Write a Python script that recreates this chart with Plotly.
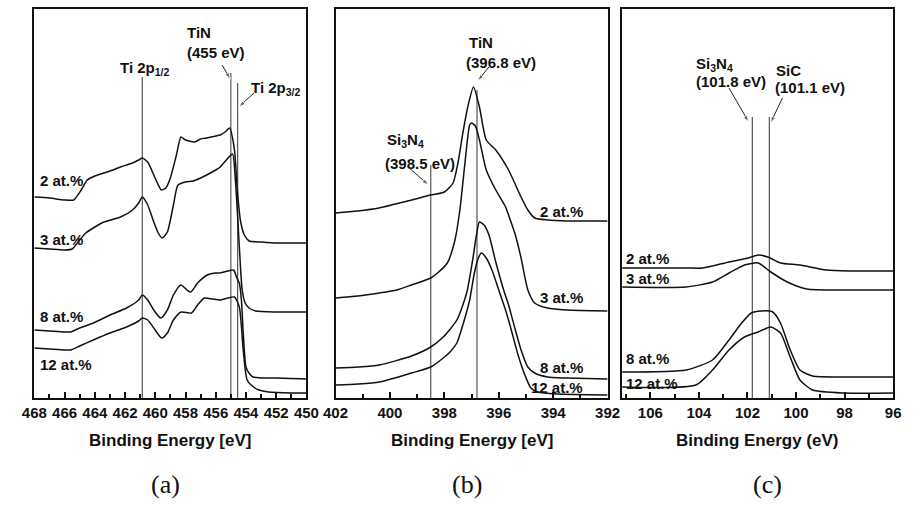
import plotly.graph_objects as go

W, H = 913, 505

# ---------------- Panel (a): Ti 2p ----------------
a_2_E = [468.0, 467.0, 466.0, 465.4, 464.9, 464.5, 464.0, 463.4, 462.8, 462.3, 461.5, 461.1, 460.86, 460.5, 460.1, 459.8, 459.6, 459.3, 459.0, 458.6,
         458.3, 458.0, 457.4, 457.0, 456.6, 456.0, 455.7, 455.3, 455.08, 454.76, 454.57, 454.37, 454.11, 453.79, 453.0, 452.0, 451.0, 450.0]
a_2_I = [201, 200, 198, 198, 208, 218, 222, 225, 228, 231, 235, 238, 240, 236, 223, 213, 208, 210, 220, 243,
         261, 258, 256, 259, 260, 262, 263, 267, 270, 248, 208, 178, 163, 157, 156, 155, 155, 155]
a_3_E = [468.0, 467.0, 466.0, 465.5, 465.0, 464.6, 464.0, 463.4, 462.3, 461.5, 461.1, 460.86, 460.5, 460.1, 459.8, 459.55, 459.2, 458.8, 458.5, 458.0,
         457.5, 457.0, 456.6, 456.0, 455.7, 455.3, 454.89, 454.7, 454.5, 454.37, 454.25, 454.05, 453.8, 453.35, 452.0, 450.0]
a_3_I = [150, 149, 148, 149, 158, 165, 171, 176, 181, 188, 195, 201, 193, 176, 165, 160, 166, 193, 213, 216,
         217, 220, 223, 228, 231, 238, 244, 218, 168, 133, 108, 95, 90, 87, 86, 86]
a_8_E = [468.0, 467.0, 466.0, 465.6, 465.0, 464.1, 463.0, 461.9, 461.1, 460.86, 460.5, 460.1, 459.64, 459.2, 458.8, 458.3, 457.9, 457.65, 457.2, 456.56,
         456.0, 455.72, 455.2, 454.82, 454.6, 454.44, 454.3, 454.18, 454.0, 453.8, 453.54, 453.0, 452.0, 450.0]
a_8_I = [68, 67, 66, 66, 70, 75, 83, 90, 98, 103, 98, 88, 80, 88, 103, 113, 108, 106, 115, 123,
         125, 125, 127, 128, 120, 115, 98, 65, 31, 25, 21, 20, 20, 19]
a_12_E = [468.0, 467.0, 466.0, 465.6, 465.0, 464.1, 463.0, 461.9, 461.1, 460.86, 460.5, 460.1, 459.58, 459.2, 458.8, 458.29, 457.6, 457.2, 456.75, 456.2,
          455.72, 455.2, 454.76, 454.44, 454.18, 453.92, 453.5, 453.15, 452.5, 451.0, 450.0]
a_12_I = [50, 49, 48, 48, 52, 58, 65, 71, 77, 80, 78, 70, 60, 65, 78, 86, 85, 93, 100, 99,
          98, 100, 101, 91, 48, 18, 11, 8, 6, 5, 5]
a_ref_E = [460.86, 455.0, 454.55]
a_ref_top = [321, 325, 315]
# arrows (tail energy, tail intensity, head energy, head intensity)
a_arrows = [(455.59, 333, 455.02, 319), (453.47, 305, 454.47, 291)]

# ---------------- Panel (b): N 1s ----------------
b_2_E = [402.0, 401.2, 400.4, 399.8, 399.2, 398.5, 398.0, 397.68, 397.5, 397.32, 397.14, 396.93, 396.71, 396.46, 396.11, 395.64, 395.18, 394.93, 394.68, 394.21, 393.5, 392.0]
b_2_I = [185, 187, 190, 194, 198, 203, 206, 215, 235, 265, 291, 311, 291, 258, 248, 228, 201, 188, 180, 178, 177, 177]
b_3_E = [402.0, 401.18, 400.39, 399.75, 399.21, 398.5, 398.25, 397.89, 397.61, 397.43, 397.25, 397.07, 397.0, 396.86, 396.71, 396.46, 396.11,
         395.75, 395.64, 395.39, 395.18, 394.93, 394.68, 394.21, 393.5, 392.0]
b_3_I = [100, 102, 105, 108, 113, 120, 125, 135, 158, 188, 233, 273, 275, 272, 258, 228, 208, 191, 183, 163, 140, 108, 95, 90, 88, 87]
b_8_E = [402.0, 401.18, 400.39, 399.21, 398.5, 398.04, 397.54, 397.18, 396.96, 396.82, 396.71, 396.54, 396.36, 396.11, 395.82, 395.64,
         395.39, 395.18, 394.93, 394.68, 394.21, 393.5, 392.0]
b_8_I = [30, 31, 33, 42, 51, 61, 78, 105, 138, 163, 176, 173, 163, 136, 108, 93, 68, 48, 31, 25, 21, 20, 19]
b_12_E = [402.0, 401.18, 400.39, 399.21, 398.5, 398.04, 397.79, 397.54, 397.32, 397.07, 396.89, 396.75, 396.64, 396.46, 396.25, 396.0,
          395.75, 395.54, 395.29, 395.04, 394.82, 394.57, 393.86, 392.0]
b_12_I = [13, 14, 16, 25, 31, 40, 46, 55, 73, 98, 126, 140, 145, 140, 128, 108, 88, 68, 43, 23, 10, 6, 4, 3]
b_ref_E = [398.5, 396.8]
b_ref_top = [233, 308]
b_arrows = [(396.36, 331, 396.78, 317), (399.29, 230, 398.58, 213)]

# ---------------- Panel (c): Si 2p ----------------
c_2_E = [107.16, 104.5, 103.84, 102.76, 101.96, 101.56, 101.16, 100.64, 99.84, 98.76, 97.8, 96.0]
c_2_I = [130, 130, 130, 136, 140, 143, 141, 135, 133, 128, 127, 127]
c_3_E = [107.16, 104.52, 103.44, 102.76, 102.12, 101.56, 101.04, 100.36, 99.56, 98.0, 96.0]
c_3_I = [111, 111, 116, 125, 133, 135, 126, 116, 109, 108, 108]
c_8_E = [107.16, 104.52, 103.44, 102.76, 102.24, 101.84, 101.44, 100.96, 100.64, 100.24, 99.84, 99.32, 98.0, 96.0]
c_8_I = [26, 28, 38, 58, 75, 85, 87, 86, 75, 48, 28, 22, 21, 21]
c_12_E = [107.16, 104.12, 103.44, 102.76, 102.12, 101.56, 101.04, 100.64, 100.24, 99.84, 99.32, 98.0, 96.0]
c_12_I = [11, 13, 28, 48, 61, 66, 71, 65, 41, 18, 8, 5, 5]
c_ref_E = [101.8, 101.1]
c_ref_top = [281, 281]
c_arrows = [(102.76, 310, 101.95, 276), (100.56, 300, 101.05, 275)]

x_ranges = [[468, 450], [402, 392], [107.16, 96]]
tick_vals = [list(range(468, 449, -2)), list(range(402, 391, -2)), list(range(106, 95, -2))]

fig = go.Figure()

panels = [
    ("x", "y", [(a_2_E, a_2_I), (a_3_E, a_3_I), (a_8_E, a_8_I), (a_12_E, a_12_I)], a_ref_E, a_ref_top, a_arrows),
    ("x2", "y2", [(b_2_E, b_2_I), (b_3_E, b_3_I), (b_8_E, b_8_I), (b_12_E, b_12_I)], b_ref_E, b_ref_top, b_arrows),
    ("x3", "y3", [(c_2_E, c_2_I), (c_3_E, c_3_I), (c_8_E, c_8_I), (c_12_E, c_12_I)], c_ref_E, c_ref_top, c_arrows),
]
for xa, ya, series, refE, reftop, arrows in panels:
    for e, t in zip(refE, reftop):
        fig.add_trace(go.Scatter(x=[e, e], y=[0, t], mode="lines", xaxis=xa, yaxis=ya,
                                 line=dict(color="#555555", width=1.2), showlegend=False, hoverinfo="skip"))
    for E, I in series:
        fig.add_trace(go.Scatter(x=E, y=I, mode="lines", xaxis=xa, yaxis=ya,
                                 line=dict(color="#111111", width=1.5, shape="spline", smoothing=0.6),
                                 showlegend=False))
    for te, ti, he, hi in arrows:
        fig.add_trace(go.Scatter(x=[te, he], y=[ti, hi], mode="lines+markers", xaxis=xa, yaxis=ya,
                                 line=dict(color="#222222", width=1),
                                 marker=dict(symbol="arrow", size=[0, 7], angleref="previous", color="#222222"),
                                 showlegend=False, hoverinfo="skip"))

def px(x):
    return x / W

def py(y):
    return 1 - y / H

domains = [[22 / W, 302 / W], [332 / W, 612 / W], [627 / W, 906 / W]]
ydom = [(H - 398) / H, (H - 9) / H]
tickfont = dict(family="Liberation Sans, Arial", size=15, color="#111111", weight="bold")
layout = dict(width=W, height=H, margin=dict(l=0, r=0, t=0, b=0),
              paper_bgcolor="white", plot_bgcolor="white", showlegend=False)
for i, name in enumerate(["", "2", "3"]):
    layout["xaxis" + name] = dict(domain=domains[i], range=x_ranges[i], anchor="y" + name,
                                  showline=True, linecolor="#111111", linewidth=2, mirror=True,
                                  ticks="inside", ticklen=6, tickwidth=2, tickcolor="#111111",
                                  tickvals=tick_vals[i], tickfont=tickfont, showgrid=False, zeroline=False,
                                  minor=dict(dtick=1, ticks="inside", ticklen=4, tickwidth=1.5, tickcolor="#111111", showgrid=False))
    layout["yaxis" + name] = dict(domain=ydom, range=[0, 389], anchor="x" + name,
                                  showline=True, linecolor="#111111", linewidth=2, mirror=True,
                                  ticks="", showticklabels=False, showgrid=False, zeroline=False)
fig.update_layout(**layout)

lab = dict(family="Liberation Sans, Arial", size=15, color="#111111", weight="bold")
texts = [
    # panel a
    ("2 at.%", 26, 180, "left"), ("3 at.%", 26, 239, "left"), ("8 at.%", 26, 316, "left"), ("12 at.%", 26, 364, "left"),
    ("Ti 2p<sub>1/2</sub>", 135, 68, "center"), ("TiN", 177, 32, "left"), ("(455 eV)", 177, 53, "left"),
    ("Ti 2p<sub>3/2</sub>", 243, 89, "left"),
    # panel b
    ("TiN", 467, 43, "left"), ("(396.8 eV)", 464, 62, "left"),
    ("Si<sub>3</sub>N<sub>4</sub>", 383, 140, "left"), ("(398.5 eV)", 381, 163, "left"),
    ("2 at.%", 589, 212, "right"), ("3 at.%", 589, 297, "right"), ("8 at.%", 589, 367, "right"), ("12 at.%", 589, 387, "right"),
    # panel c
    ("Si<sub>3</sub>N<sub>4</sub>", 701, 64, "left"), ("(101.8 eV)", 701, 81, "left"),
    ("SiC", 783, 70, "left"), ("(101.1 eV)", 782, 88, "left"),
    ("2 at.%", 629, 258, "left"), ("3 at.%", 629, 278, "left"), ("8 at.%", 629, 358, "left"), ("12 at.%", 629, 383, "left"),
]
for t, x, y, anc in texts:
    fig.add_annotation(text=t, x=px(x), y=py(y), xref="paper", yref="paper", xanchor=anc, yanchor="middle",
                       showarrow=False, font=lab)

titles = [("Binding Energy [eV]", 162), ("Binding Energy [eV]", 472), ("Binding Energy (eV)", 766)]
for t, x in titles:
    fig.add_annotation(text=t, x=px(x), y=py(440), xref="paper", yref="paper", xanchor="center", yanchor="middle",
                       showarrow=False, font=dict(family="Liberation Sans, Arial", size=17, color="#111111", weight="bold"))
for t, x in [("(a)", 157), ("(b)", 467), ("(c)", 777)]:
    fig.add_annotation(text=t, x=px(x), y=py(484), xref="paper", yref="paper", xanchor="center", yanchor="middle",
                       showarrow=False, font=dict(family="Liberation Serif, serif", size=26, color="#111111"))

fig.write_html("out.html")
